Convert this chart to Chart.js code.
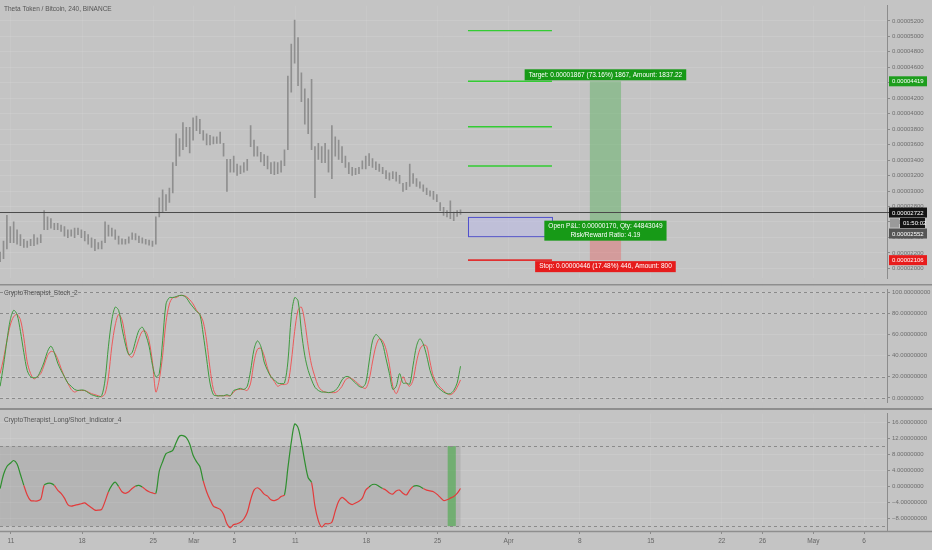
<!DOCTYPE html>
<html>
<head>
<meta charset="utf-8">
<script src="https://cdn.jsdelivr.net/npm/chart.js@4.4.1/dist/chart.umd.min.js"></script>
<style>
  html, body { margin: 0; padding: 0; background: #c4c4c4; width: 932px; height: 550px; overflow: hidden; }
  canvas { position: absolute; left: 0; display: block; }
  #c1 { top: 0; }
  #c2 { top: 284px; }
  #c3 { top: 408px; }
</style>
</head>
<body>
<canvas id="c1" width="932" height="284"></canvas>
<canvas id="c2" width="932" height="124"></canvas>
<canvas id="c3" width="932" height="142"></canvas>
<script>
// x axis: days counted from 1 Feb
const tickDays = [10, 17, 24, 28, 32, 38, 45, 52, 59, 66, 73, 80, 84, 89, 94];
const tickLabels = ['11', '18', '25', 'Mar', '5', '11', '18', '25', 'Apr', '8', '15', '22', '26', 'May', '6'];
const xMin = 8.917, xMax = 96.26;
const startDay = 8.93, stepDay = 1 / 3; // 8h bars

// price in satoshi (1e-8 BTC)
const priceHigh = [2209,2354,2685,2540,2603,2499,2437,2375,2354,2375,
  2437,2396,2437,2747,2665,2644,2582,2582,2561,2540,
  2499,2499,2520,2520,2499,2478,2437,2396,2375,2333,
  2354,2603,2561,2520,2499,2416,2383,2375,2408,2458,
  2449,2416,2396,2375,2367,2354,2665,2913,3017,2954,
  3037,3368,3741,3679,3886,3824,3824,3948,3969,3927,
  3782,3741,3720,3700,3700,3762,3617,3410,3410,3451,
  3348,3327,3368,3410,3845,3658,3575,3501,3472,3451,
  3368,3377,3368,3389,3534,4486,4900,5211,4983,4528,
  4321,4196,4445,3575,3617,3575,3617,3534,3845,3700,
  3658,3575,3451,3368,3306,3294,3306,3389,3451,3484,
  3418,3377,3348,3306,3265,3236,3252,3244,3203,3099,
  3112,3348,3224,3161,3120,3079,3037,3004,2996,2954,
  2851,2789,2747,2872,2727,2747,2756];
const priceLow = [2085,2126,2251,2333,2333,2313,2292,2271,2271,2292,
  2292,2313,2333,2499,2499,2520,2499,2499,2478,2416,
  2396,2416,2396,2437,2396,2354,2313,2271,2230,2251,
  2251,2333,2416,2416,2375,2313,2313,2313,2325,2375,
  2367,2333,2325,2313,2300,2284,2313,2665,2727,2747,
  2851,2975,3327,3451,3534,3575,3493,3658,3782,3741,
  3658,3596,3596,3609,3617,3617,3451,2996,3244,3244,
  3203,3224,3244,3265,3575,3451,3451,3377,3327,3286,
  3224,3211,3224,3244,3327,3534,4279,4652,4362,4155,
  3865,3741,3534,2913,3410,3368,3368,3244,3161,3451,
  3410,3368,3306,3224,3203,3211,3224,3286,3286,3327,
  3306,3277,3252,3224,3161,3141,3161,3128,3099,2996,
  3017,3058,3099,3058,3037,2996,2954,2934,2892,2863,
  2747,2685,2665,2644,2615,2673,2698];
const priceTicks = [2000,2200,2400,2600,2800,3000,3200,3400,3600,3800,4000,4200,4400,4600,4800,5000,5200];
const lastPrice = 2722;
const entryPrice = 2552, targetPrice = 4419, stopPrice = 2106;
const tradeDays = [67.0, 70.07];
const greenLevels = [5075, 4419, 3832, 3323];
const levelDays = [55.0, 63.27];
const boxPrices = [2416, 2665];

const stochK = [11,31,54,74,83,79,63,43,26,20,
  19,20,26,34,44,49,43,33,26,20,
  14,11,8,7,7.5,7,5,3,2,1,
  2,17,49,74,86,83,66,51,41,43,
  54,64,67,60,49,31,20,23,54,89,
  95,95,96,97,97,95,90,86,82,79,
  60,37,14,3,2,2,2,3,2,7,
  8,9,8,11,26,46,54,49,34,26,
  20,17,14,13.5,14,34,77,95,92,63,
  40,26,17,10,7,5.5,5.5,5,5.5,7,
  11,17,20,20,17,14,11,10,14,34,
  54,60,57,51,37,23,8,11,23,
  14,14,13,31,49,56,51,40,26,17,11,8,5.5,4,4,7,14,30];
const stochD = [23,37,54,69,77,79,74,57,34,23,
  18,20,23,31,40,44,43,37,28,20,
  14,8,5.5,7,7,7,5.5,4,3,2,
  1,4,20,49,69,79,74,57,41,38.5,
  46,56,63,63,54,34,5.5,17,40,72,
  89,95,95,97,97,96,93,89,83,79,
  72,54,28,8,2,2,2,2,2,5.5,
  8,8,8,7,14,34,46,47,40,28,
  20,15.5,11,12.6,12.6,14,34,63,83,86,
  72,49,31,20,11,7,5.5,5,5,5,
  7,11,17,19,18,15.5,12.6,10,9,17,
  34,49,56,54,46,31,11,4,11,
  20,14,11,17,34,46,50,49,34,20,14,10,7,4,3,5,10,17];
const stochTicks = [0, 20, 40, 60, 80, 100];
const stochLevels = [100, 80, 20, 0];

const lsValues = [-0.6,2.9,4.9,5.7,6.4,5.5,2.9,0.2,-2.2,-3.6,
  -3.7,-3.7,-3.3,0.2,0.7,0.7,0.2,-1.0,-1.8,-3.0,
  -4.6,-5.0,-4.8,-4.6,-4.4,-4.2,-4.8,-5.4,-6.0,-6.0,
  -5.8,-3.8,-1.4,0.2,1.0,-0.1,-1.4,-1.8,-1.4,-0.6,
  0,0.2,-0.2,-0.9,-1.4,-1.7,-1.8,3.7,6.1,8.1,
  8.5,8.9,10.9,12.5,12.6,12.1,10.5,7.7,6.1,4.9,
  1.3,-1.4,-3.4,-5.0,-5.4,-5.8,-7.0,-9.4,-10.4,-9.6,
  -9.4,-9.0,-8.2,-6.6,-3.4,-1.0,-0.4,-1.0,-2.0,-2.5,
  -3.4,-3.6,-3.3,-2.6,-2.2,4.5,10.9,15.5,14.6,10.9,
  6.1,2.1,0.9,-5.0,-8.6,-10.2,-9.4,-9.4,-9.0,-6.2,
  -3.8,-2.8,-3.4,-4.2,-4.6,-4.2,-3.8,-3.0,-1.0,-0.2,
  0.4,0.4,-0.1,-0.6,-1.0,-1.7,-2.0,-1.2,-1.0,
  -1.8,-2.2,-1.0,-0.1,0.1,-0.1,-0.6,-1.0,-1.2,-1.4,-2.0,-2.8,-3.6,-3.4,-3.0,-2.6,-1.8,-0.6];
const lsLongSpans = [[0,7],[13,16],[32,35],[40,42],[46,60],[84,92],[109,113],[122,125]];
const lsTicks = [-8, -4, 0, 4, 8, 12, 16];
const lsZone = [-10, 10];
const lsSignalDays = [53.0, 53.8];

const FONT = '"Liberation Sans", Arial, sans-serif';
const t = i => startDay + i * stepDay;
const isLong = i => lsLongSpans.some(s => i >= s[0] && i <= s[1]);

function xScale(show) {
  return {
    type: 'linear', min: xMin, max: xMax, offset: false,
    afterBuildTicks: s => { s.ticks = tickDays.map(v => ({ value: v })); },
    afterFit: s => { s.height = show ? 19 : 0; },
    grid: { offset: false, color: 'rgba(255,255,255,0.07)', drawTicks: show, tickLength: 3, tickColor: '#8a8a8a' },
    border: { display: false },
    ticks: { display: show, autoSkip: false, maxRotation: 0, padding: 3, color: '#666',
      font: { family: FONT, size: 6.5 }, callback: (v, i) => tickLabels[i] }
  };
}

function yScale(min, max, ticks, fmt) {
  return {
    position: 'right', min: min, max: max,
    afterBuildTicks: s => { s.ticks = ticks.map(v => ({ value: v })); },
    afterFit: s => { s.width = 45; },
    grid: { color: 'rgba(255,255,255,0.10)', tickLength: 3, tickColor: '#8a8a8a' },
    border: { display: true, color: '#8c8c8c' },
    ticks: { padding: 2, color: '#6e6e6e', font: { family: FONT, size: 6 }, callback: fmt }
  };
}

function baseOptions(xs, ys) {
  return {
    responsive: false, animation: false, events: [],
    layout: { padding: 0, autoPadding: false },
    plugins: { legend: { display: false }, tooltip: { enabled: false } },
    scales: { x: xs, y: ys }
  };
}

function hLine(ctx, x0, x1, y, color, w, dash) {
  ctx.save();
  ctx.strokeStyle = color; ctx.lineWidth = w;
  ctx.setLineDash(dash || []);
  ctx.beginPath(); ctx.moveTo(x0, y); ctx.lineTo(x1, y); ctx.stroke();
  ctx.restore();
}

function tag(ctx, lines, cx, top, bg, size) {
  ctx.save();
  ctx.font = size + 'px ' + FONT;
  const w = Math.max(...lines.map(l => ctx.measureText(l).width)) + 8;
  const lh = size + 2.5;
  const h = lines.length * lh + 2;
  ctx.fillStyle = bg;
  ctx.fillRect(cx - w / 2, top, w, h);
  ctx.fillStyle = '#fff'; ctx.textAlign = 'center'; ctx.textBaseline = 'middle';
  lines.forEach((l, k) => ctx.fillText(l, cx, top + 1 + lh * (k + 0.5)));
  ctx.restore();
}

function axisTag(ctx, text, yc, bg, x0, w) {
  ctx.save();
  ctx.fillStyle = bg;
  ctx.fillRect(x0, yc - 5, w, 10);
  ctx.fillStyle = '#fff'; ctx.font = '6px ' + FONT;
  ctx.textAlign = 'left'; ctx.textBaseline = 'middle';
  ctx.fillText(text, x0 + 3, yc + 0.5);
  ctx.restore();
}

function title(ctx, text, y) {
  ctx.save();
  ctx.fillStyle = '#555'; ctx.font = '6.5px ' + FONT;
  ctx.textBaseline = 'middle';
  ctx.fillText(text, 4, y);
  ctx.restore();
}

const sat = v => (v / 1e8).toFixed(8);

// ---------- price pane ----------
const priceOverlay = {
  id: 'priceOverlay',
  afterDatasetsDraw(chart) {
    const { ctx, chartArea: a, scales: { x, y } } = chart;
    // rectangle drawing
    const bx0 = x.getPixelForValue(levelDays[0]), bx1 = x.getPixelForValue(levelDays[1]);
    const by0 = y.getPixelForValue(boxPrices[1]), by1 = y.getPixelForValue(boxPrices[0]);
    ctx.save();
    ctx.fillStyle = 'rgba(185,185,235,0.5)';
    ctx.fillRect(bx0, by0, bx1 - bx0, by1 - by0);
    ctx.strokeStyle = '#5050cc'; ctx.lineWidth = 1;
    ctx.strokeRect(bx0 + 0.5, by0 + 0.5, bx1 - bx0, by1 - by0);
    ctx.restore();
    greenLevels.forEach(p => hLine(ctx, bx0, bx1, y.getPixelForValue(p), '#33cc33', 1.4));
    hLine(ctx, bx0, bx1, y.getPixelForValue(stopPrice), '#e03030', 1.6);
    // long position tool
    const tx0 = x.getPixelForValue(tradeDays[0]), tx1 = x.getPixelForValue(tradeDays[1]);
    const yT = y.getPixelForValue(targetPrice), yE = y.getPixelForValue(entryPrice), yS = y.getPixelForValue(stopPrice);
    ctx.save();
    ctx.fillStyle = 'rgba(76,175,80,0.42)';
    ctx.fillRect(tx0, yT, tx1 - tx0, yE - yT);
    ctx.fillStyle = 'rgba(240,80,80,0.35)';
    ctx.fillRect(tx0, yE, tx1 - tx0, yS - yE);
    ctx.restore();
    // last price line
    const yL = y.getPixelForValue(lastPrice);
    hLine(ctx, 0, a.right + 2, yL, '#4a4a4a', 1);
    const cx = (tx0 + tx1) / 2;
    tag(ctx, ['Target: ' + sat(targetPrice - entryPrice) + ' (73.16%) 1867, Amount: 1837.22'], cx, yT - 12, '#179a17', 6.5);
    tag(ctx, ['Open P&L: 0.00000170, Qty: 44843049', 'Risk/Reward Ratio: 4.19'], cx, yE - 5, '#179a17', 6.5);
    tag(ctx, ['Stop: ' + sat(entryPrice - stopPrice) + ' (17.48%) 446, Amount: 800'], cx, yS + 1, '#e61c1c', 6.5);
    // price axis tags
    const ax = a.right + 2;
    axisTag(ctx, sat(targetPrice), yT, '#1d9e1d', ax, 38);
    axisTag(ctx, sat(lastPrice), yL, '#131313', ax, 38);
    ctx.save();
    ctx.fillStyle = '#9a9a9a'; ctx.fillRect(ax + 1, yL + 6, 9, 9);
    ctx.restore();
    axisTag(ctx, '01:50:02', yL + 10.5, '#131313', ax + 11, 25);
    axisTag(ctx, sat(entryPrice), yL + 21, '#555', ax, 38);
    axisTag(ctx, sat(stopPrice), yS, '#e81c1c', ax, 38);
    title(ctx, 'Theta Token / Bitcoin, 240, BINANCE', 9);
  }
};

new Chart(document.getElementById('c1'), {
  type: 'bar',
  data: {
    datasets: [{
      data: priceHigh.map((h, i) => ({ x: t(i), y: [priceLow[i], h] })),
      backgroundColor: '#8f8f8f', barThickness: 1, grouped: false
    }]
  },
  options: baseOptions(xScale(false), yScale(1870, 5398, priceTicks, v => sat(v))),
  plugins: [priceOverlay]
});

// ---------- stoch pane ----------
const sepColor = '#8e8e8e';
const stochOverlay = {
  id: 'stochOverlay',
  beforeDatasetsDraw(chart) {
    const { ctx, chartArea: a, scales: { y } } = chart;
    stochLevels.forEach(v => hLine(ctx, a.left, a.right, Math.round(y.getPixelForValue(v)) + 0.5, '#8a8a8a', 1, [3, 3]));
  },
  afterDraw(chart) {
    const { ctx } = chart;
    hLine(ctx, 0, 932, 0.5, sepColor, 2);
    title(ctx, 'CryptoTherapist_Stoch_2', 9);
  }
};

new Chart(document.getElementById('c2'), {
  type: 'line',
  data: {
    datasets: [
      { data: stochK.map((v, i) => ({ x: t(i), y: v })), borderColor: '#3f9a3f', borderWidth: 1, pointRadius: 0, tension: 0.3 },
      { data: stochD.map((v, i) => ({ x: t(i), y: v })), borderColor: '#ec5a5a', borderWidth: 1, pointRadius: 0, tension: 0.3 }
    ]
  },
  options: baseOptions(xScale(false), yScale(-4.3, 102.6, stochTicks, v => v.toFixed(8))),
  plugins: [stochOverlay]
});

// ---------- long/short pane ----------
const lsOverlay = {
  id: 'lsOverlay',
  beforeDatasetsDraw(chart) {
    const { ctx, chartArea: a, scales: { x, y } } = chart;
    const z0 = y.getPixelForValue(lsZone[1]), z1 = y.getPixelForValue(lsZone[0]);
    const x0 = x.getPixelForValue(t(0)), x1 = x.getPixelForValue(t(lsValues.length - 1));
    ctx.save();
    ctx.fillStyle = 'rgba(100,100,100,0.17)';
    ctx.fillRect(x0, z0, x1 - x0, z1 - z0);
    const g0 = x.getPixelForValue(lsSignalDays[0]), g1 = x.getPixelForValue(lsSignalDays[1]);
    ctx.fillStyle = 'rgba(60,170,60,0.55)';
    ctx.fillRect(g0, z0, g1 - g0, z1 - z0);
    ctx.restore();
    lsZone.forEach(v => hLine(ctx, a.left, a.right, Math.round(y.getPixelForValue(v)) + 0.5, '#8a8a8a', 1, [3, 3]));
  },
  afterDraw(chart) {
    const { ctx, chartArea: a } = chart;
    hLine(ctx, 0, 932, 1, sepColor, 2);
    hLine(ctx, 0, 932, a.bottom + 0.5, sepColor, 1.5);
    title(ctx, 'CryptoTherapist_Long/Short_Indicator_4', 12);
  }
};

new Chart(document.getElementById('c3'), {
  type: 'line',
  data: {
    datasets: [{
      data: lsValues.map((v, i) => ({ x: t(i), y: v })),
      borderWidth: 1.2, pointRadius: 0, tension: 0.3, borderColor: '#e23b3b',
      segment: { borderColor: c => (isLong(c.p0DataIndex) && isLong(c.p1DataIndex)) ? '#2f8f2f' : '#e23b3b' }
    }]
  },
  options: baseOptions(xScale(true), yScale(-11.2, 18.1, lsTicks, v => (v < 0 ? '\u2212' + (-v).toFixed(8) : v.toFixed(8)))),
  plugins: [lsOverlay]
});
</script>
</body>
</html>
